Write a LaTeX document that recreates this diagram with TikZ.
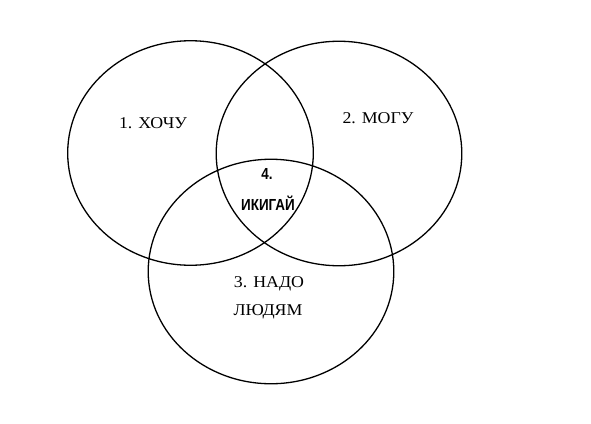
\documentclass[tikz,border=0pt]{standalone}
\usepackage{fontspec}
\setmainfont{Liberation Serif}[FakeStretch=1.08]
\newfontfamily\ikifont{Liberation Sans}[FakeStretch=0.84]
\usetikzlibrary{shapes.geometric}
\tikzset{
  circ/.style={draw=black, line width=1.3pt, ellipse, inner sep=0pt, minimum width=245.6pt, minimum height=224.5pt},
  lbl/.style={inner sep=0pt, font=\fontsize{16.5}{19}\selectfont, text=black},
  iki/.style={inner sep=0pt, font=\ikifont\bfseries\fontsize{16}{19}\selectfont, text=black}
}
\begin{document}
\begin{tikzpicture}[x=1pt, y=-1pt]
\useasboundingbox[fill=white] (0,0) rectangle (591,423);
\node[circ] (c1) at (190.5,153) {};
\node[circ] (c2) at (339,153.5) {};
\node[circ] (c3) at (271,271.5) {};
\node[lbl] (t1) at (153,123) {1. ХОЧУ};
\node[lbl] (t2) at (378,118) {2. МОГУ};
\node[iki] (t4a) at (267,174) {4.};
\node[iki] (t4b) at (268,203) {ИКИГАЙ};
\node[lbl] (t3a) at (269,284) {3. НАДО};
\node[lbl] (t3b) at (268,312) {ЛЮДЯМ};
\end{tikzpicture}
\end{document}
